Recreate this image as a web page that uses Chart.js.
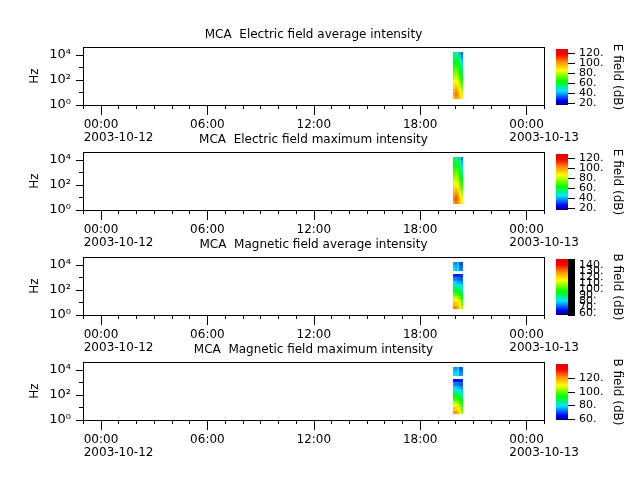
<!DOCTYPE html>
<html>
<head>
<meta charset="utf-8">
<script src="https://cdn.jsdelivr.net/npm/chart.js@4.4.1/dist/chart.umd.min.js"></script>
<style>
  body { margin: 0; background: #fff; }
  #wrap { position: relative; width: 640px; height: 480px; overflow: hidden; }
  canvas { position: absolute; left: 0; }
</style>
</head>
<body>
<div id="wrap"></div>
<script>
// Time in hours from 2003-10-12 00:00
const timeEdges = [19.89, 20.0, 20.11, 20.22, 20.34, 20.45];
// MCA channel frequencies (Hz), used as cell edges
const freqEdges = [3.16, 5.62, 10, 17.8, 31.6, 56.2, 100, 178, 316, 562, 1000, 1780, 3160, 5620, 10000, 17800];
const hourTicks = [-1, 0, 1, 2, 3, 4, 5, 6, 7, 8, 9, 10, 11, 12, 13, 14, 15, 16, 17, 18, 19, 20, 21, 22, 23, 24, 25];
const dateLabels = { 0: "2003-10-12", 24: "2003-10-13" };
const freqTicks = [1, 10, 100, 1000, 10000];

const titles = [
  "MCA  Electric field average intensity",
  "MCA  Electric field maximum intensity",
  "MCA  Magnetic field average intensity",
  "MCA  Magnetic field maximum intensity"
];
const cbTitles = ["E field (dB)", "E field (dB)", "B field (dB)", "B field (dB)"];
const cbRanges = [[16, 128], [16, 128], [57, 150], [58, 141]];
const eTicks = [20, 40, 60, 80, 100, 120];
const bAvgTicks = [60, 70, 80, 90, 100, 110, 120, 130, 140];
const bMaxTicks = [60, 80, 100, 120];

// dB values, one list per time column, lowest frequency first
const eAvg = [
  [96, 99, 97, 92, 88, 84, 80, 76, 72, 68, 65, 62, 58, 55, 52],
  [101, 104, 100, 95, 90, 86, 82, 78, 74, 70, 66, 62, 58, 52, 48],
  [98, 100, 96, 91, 86, 82, 78, 74, 71, 68, 65, 62, 60, 58, 55],
  [90, 88, 84, 80, 76, 72, 68, 65, 62, 58, 54, 50, 46, 42, 40],
  [84, 82, 78, 74, 70, 66, 63, 60, 56, 52, 48, 44, 40, 36, 32]
];
const eMax = [
  [100, 104, 101, 96, 92, 88, 84, 80, 76, 72, 68, 65, 62, 58, 55],
  [105, 108, 104, 99, 94, 90, 86, 82, 78, 74, 70, 66, 62, 56, 52],
  [101, 104, 100, 95, 90, 86, 82, 78, 75, 72, 68, 65, 63, 60, 58],
  [92, 90, 86, 82, 78, 74, 70, 67, 64, 60, 56, 52, 48, 44, 42],
  [86, 84, 80, 76, 72, 68, 65, 62, 58, 54, 50, 46, 42, 38, 34]
];
const bAvg = [
  [130, 124, 117, 110, 103, 97, 91, 85, 80, 74, 67, null, 80, 78, 76],
  [128, 122, 116, 109, 102, 96, 90, 84, 78, 73, 66, null, 78, 76, 74],
  [124, 119, 113, 107, 100, 94, 88, 82, 77, 72, 66, null, 82, 80, 78],
  [116, 112, 108, 102, 97, 92, 86, 81, 76, 71, 67, null, 72, 70, 68],
  [108, 105, 101, 97, 93, 88, 84, 79, 75, 71, 68, null, 74, 72, 70]
];
const bMax = [
  [121, 116, 110, 104, 98, 93, 88, 83, 78, 73, 66, null, 79, 77, 75],
  [120, 114, 109, 103, 97, 92, 87, 82, 77, 72, 65, null, 78, 76, 74],
  [116, 111, 106, 101, 95, 90, 85, 81, 76, 71, 65, null, 81, 79, 77],
  [109, 105, 101, 96, 92, 88, 84, 80, 75, 70, 66, null, 73, 71, 69],
  [102, 99, 96, 92, 89, 85, 81, 77, 73, 70, 67, null, 75, 73, 71]
];

const grids = [eAvg, eMax, bAvg, bMax];
const cbTicks = [eTicks, eTicks, bAvgTicks, bMaxTicks];

const FONT = "DejaVu Sans";
Chart.defaults.font.family = FONT;
Chart.defaults.color = "#000";

const SUP = ["\u2070", "\u00b9", "\u00b2", "\u00b3", "\u2074"];

// rainbow colour map
const cmapStops = [
  [0, [0, 0, 128]], [0.08, [0, 0, 255]], [0.25, [0, 230, 255]], [0.42, [0, 255, 0]],
  [0.62, [255, 255, 0]], [0.76, [255, 150, 0]], [0.9, [255, 0, 0]], [1, [230, 0, 0]]
];
function cmap(t) {
  t = Math.max(0, Math.min(1, t));
  for (let i = 1; i < cmapStops.length; i++) {
    const [p0, c0] = cmapStops[i - 1];
    const [p1, c1] = cmapStops[i];
    if (t <= p1) {
      const f = (t - p0) / (p1 - p0);
      return "rgb(" + c0.map((c, j) => Math.round(c + (c1[j] - c) * f)).join(",") + ")";
    }
  }
  return "rgb(230,0,0)";
}

function xLabel(v) {
  if (v % 6 !== 0) return "";
  const hh = String(((v % 24) + 24) % 24).padStart(2, "0") + ":00";
  return dateLabels[v] ? [hh, dateLabels[v]] : hh;
}

const wrap = document.getElementById("wrap");
function addCanvas(top) {
  const c = document.createElement("canvas");
  c.width = 640;
  c.height = 150;
  c.style.top = top + "px";
  wrap.appendChild(c);
  return c;
}

// draws the spectrogram cells, the frame and the tick marks
function specPlugin(grid, lo, hi) {
  return {
    id: "spec",
    beforeDatasetsDraw(chart) {
      const { ctx, chartArea: a, scales: { x, y } } = chart;
      ctx.save();
      ctx.beginPath();
      ctx.rect(a.left, a.top, a.right - a.left, a.bottom - a.top);
      ctx.clip();
      grid.forEach((col, c) => {
        const x0 = Math.round(x.getPixelForValue(timeEdges[c]));
        const x1 = Math.round(x.getPixelForValue(timeEdges[c + 1]));
        col.forEach((v, r) => {
          if (v === null) return;
          const y0 = Math.round(y.getPixelForValue(freqEdges[r]));
          const y1 = Math.round(y.getPixelForValue(freqEdges[r + 1]));
          ctx.fillStyle = cmap((v - lo) / (hi - lo));
          ctx.fillRect(x0, y1, x1 - x0, y0 - y1);
        });
      });
      ctx.restore();
    },
    afterDraw(chart) {
      const { ctx, chartArea: a, scales: { x, y } } = chart;
      ctx.save();
      ctx.strokeStyle = "#000";
      ctx.lineWidth = 1;
      ctx.strokeRect(a.left + 0.5, a.top + 0.5, a.right - a.left, a.bottom - a.top);
      ctx.beginPath();
      hourTicks.forEach(v => {
        const px = Math.round(x.getPixelForValue(v)) + 0.5;
        const len = v % 6 === 0 ? 10 : 4;
        ctx.moveTo(px, a.bottom);
        ctx.lineTo(px, a.bottom + len);
      });
      freqTicks.forEach(f => {
        const py = Math.round(y.getPixelForValue(f)) + 0.5;
        const e = Math.round(Math.log10(f));
        const len = e % 2 === 0 ? 7 : 4;
        ctx.moveTo(a.left - len, py);
        ctx.lineTo(a.left, py);
      });
      ctx.stroke();
      ctx.restore();
    }
  };
}

function cbPlugin(ticks, minorStep) {
  return {
    id: "cbticks",
    afterDraw(chart) {
      const { ctx, chartArea: a, scales: { y } } = chart;
      ctx.save();
      ctx.strokeStyle = "#000";
      ctx.lineWidth = 1;
      ctx.beginPath();
      ticks.forEach(v => {
        const py = Math.round(y.getPixelForValue(v)) + 0.5;
        ctx.moveTo(a.right, py);
        ctx.lineTo(a.right + 7, py);
      });
      if (minorStep) {
        for (let v = Math.ceil(y.min); v <= y.max; v += minorStep) {
          const py = Math.round(y.getPixelForValue(v)) + 0.5;
          ctx.moveTo(a.right, py);
          ctx.lineTo(a.right + 7, py);
        }
      }
      ctx.stroke();
      ctx.restore();
    }
  };
}

titles.forEach((title, k) => {
  const top = 105 * k;
  const [lo, hi] = cbRanges[k];

  // spectrogram panel
  new Chart(addCanvas(top), {
    type: "scatter",
    data: { datasets: [] },
    options: {
      responsive: false,
      animation: false,
      layout: { padding: { left: 0, top: 28, right: 96, bottom: 0 } },
      plugins: {
        legend: { display: false },
        tooltip: { enabled: false },
        title: {
          display: true,
          text: title,
          fullSize: false,
          color: "#000",
          font: { family: FONT, size: 12, weight: "normal" },
          padding: { top: 0, bottom: 4.6 }
        }
      },
      scales: {
        x: {
          type: "linear",
          min: -1,
          max: 25,
          afterBuildTicks: s => { s.ticks = hourTicks.map(v => ({ value: v })); },
          afterFit: s => { s.height = 45; },
          grid: { display: false, drawTicks: false },
          border: { display: false },
          ticks: {
            autoSkip: false,
            maxRotation: 0,
            minRotation: 0,
            align: "start",
            labelOffset: -17,
            padding: 13,
            color: "#000",
            font: { family: FONT, size: 12, lineHeight: 1.1 },
            callback: v => xLabel(v)
          }
        },
        y: {
          type: "logarithmic",
          min: 1,
          max: 43650,
          afterBuildTicks: s => { s.ticks = freqTicks.map(v => ({ value: v })); },
          afterFit: s => { s.width = 83; },
          grid: { display: false, drawTicks: false },
          border: { display: false },
          ticks: {
            autoSkip: false,
            padding: 12,
            color: "#000",
            font: { family: FONT, size: 13 },
            callback: v => {
              const e = Math.round(Math.log10(v));
              return e % 2 === 0 ? "10" + SUP[e] : "";
            }
          },
          title: {
            display: true,
            text: "Hz",
            color: "#000",
            font: { family: FONT, size: 12 },
            padding: { top: 28, bottom: 0 }
          }
        }
      }
    },
    plugins: [specPlugin(grids[k], lo, hi)]
  });

  // colour bar
  new Chart(addCanvas(top), {
    type: "bar",
    data: {
      labels: ["cb"],
      datasets: [{
        data: [[lo, hi]],
        borderWidth: 0,
        barPercentage: 1,
        categoryPercentage: 1,
        backgroundColor: c => {
          const chart = c.chart;
          const ys = chart.scales.y;
          if (!chart.chartArea || !ys) return "#000";
          const g = chart.ctx.createLinearGradient(0, ys.getPixelForValue(lo), 0, ys.getPixelForValue(hi));
          cmapStops.forEach(([p, col]) => g.addColorStop(p, "rgb(" + col.join(",") + ")"));
          return g;
        }
      }]
    },
    options: {
      responsive: false,
      animation: false,
      layout: { padding: { left: 556, top: 49, right: 0, bottom: 45 } },
      plugins: { legend: { display: false }, tooltip: { enabled: false } },
      scales: {
        x: { display: false },
        y: {
          position: "right",
          min: lo,
          max: hi,
          afterBuildTicks: s => { s.ticks = cbTicks[k].map(v => ({ value: v })); },
          afterFit: s => { s.width = 72; },
          grid: { display: false, drawTicks: false },
          border: { display: false },
          ticks: {
            autoSkip: false,
            padding: 11,
            color: "#000",
            font: { family: FONT, size: 11 },
            callback: v => v + "."
          },
          title: {
            display: true,
            text: cbTitles[k],
            color: "#000",
            font: { family: FONT, size: 12 },
            padding: { top: 16, bottom: 0 }
          }
        }
      }
    },
    plugins: [cbPlugin(cbTicks[k], k === 2 ? 1 : 0)]
  });
});
</script>
</body>
</html>
